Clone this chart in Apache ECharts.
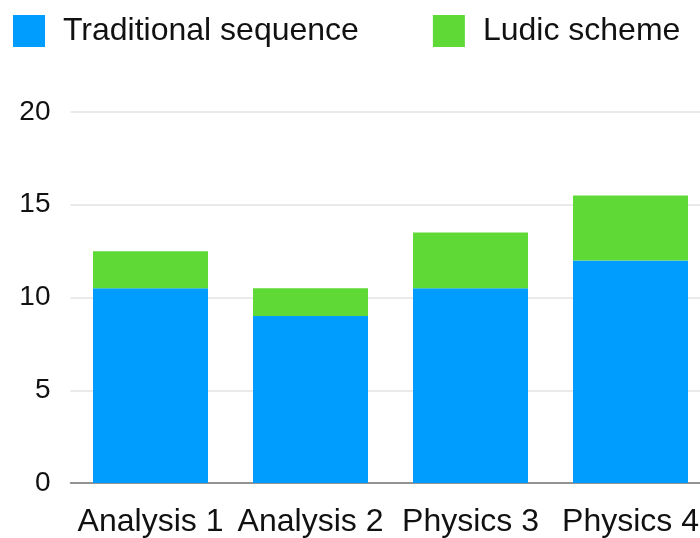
<!DOCTYPE html>
<html><head><meta charset="utf-8">
<script src="https://cdn.jsdelivr.net/npm/echarts@6/dist/echarts.min.js"></script>
<style>html,body{margin:0;padding:0;background:#fff;overflow:hidden}#c{width:720px;height:538px}</style>
</head><body><div id="c"></div>
<script>
const categories = ['Analysis 1', 'Analysis 2', 'Physics 3', 'Physics 4'];
const traditional = [10.5, 9, 10.5, 12];
const ludic = [2, 1.5, 3, 3.5];
const seriesNames = ['Traditional sequence', 'Ludic scheme'];
const FONT = '"Liberation Sans", Arial, Helvetica, sans-serif';
const chart = echarts.init(document.getElementById('c'), null, {renderer: 'canvas'});
chart.setOption({
  animation: false,
  textStyle: {fontFamily: FONT},
  legend: {
    left: 13, top: 15, padding: 0, itemWidth: 32, itemHeight: 32, itemGap: 74,
    icon: 'rect',
    textStyle: {fontSize: 32, color: '#111', fontFamily: FONT, padding: [2, 0, 0, 13]},
    data: seriesNames
  },
  grid: {left: 70.5, top: 112, right: 9.5, bottom: 55, containLabel: false, outerBoundsMode: 'none'},
  xAxis: {
    type: 'category', data: categories,
    axisLine: {lineStyle: {color: '#777', width: 1.5}},
    axisTick: {show: false},
    axisLabel: {fontSize: 32, color: '#111', margin: 23, fontFamily: FONT, interval: 0}
  },
  yAxis: {
    type: 'value', min: 0, max: 20, interval: 5,
    axisLine: {show: false}, axisTick: {show: false},
    splitLine: {lineStyle: {color: '#e3e3e3', width: 1.5}},
    axisLabel: {fontSize: 28, color: '#111', margin: 20, fontFamily: FONT}
  },
  series: [
    {name: seriesNames[0], type: 'bar', stack: 's', data: traditional, barWidth: 115,
     itemStyle: {color: '#009dff'}},
    {name: seriesNames[1], type: 'bar', stack: 's', data: ludic, barWidth: 115,
     itemStyle: {color: '#5fd936'}}
  ]
});
</script></body></html>
